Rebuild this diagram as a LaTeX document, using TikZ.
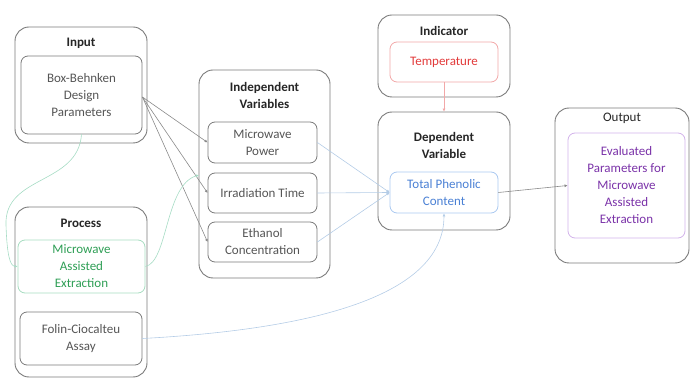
\documentclass[tikz,border=0pt]{standalone}
\usepackage{fontspec}
\setmainfont{Carlito}
\usetikzlibrary{arrows.meta}
\definecolor{boxgray}{HTML}{7A7A7A}
\definecolor{txtgray}{HTML}{555555}
\definecolor{ttl}{HTML}{262626}
\definecolor{grn}{HTML}{2E9E55}
\definecolor{grnb}{HTML}{A6DCC0}
\definecolor{redt}{HTML}{E23A3A}
\definecolor{redb}{HTML}{F2A8A8}
\definecolor{blut}{HTML}{4A80D4}
\definecolor{blub}{HTML}{A9C8F0}
\definecolor{purt}{HTML}{7A32A8}
\definecolor{purb}{HTML}{D2B2EA}
\definecolor{linegray}{HTML}{8A8A8A}
\definecolor{lineblue}{HTML}{B4CCE6}
\definecolor{linegrn}{HTML}{A6DCC4}
\tikzset{
  outerbox/.style={draw=boxgray, line width=0.9pt, rounded corners=14pt, inner sep=0pt},
  innerbox/.style={draw=boxgray, line width=0.8pt, rounded corners=7pt, inner sep=0pt, align=center,
     font=\fontsize{13}{17}\selectfont, text=txtgray},
  titletxt/.style={font=\bfseries\fontsize{13}{17}\selectfont, text=ttl, align=center, inner sep=0pt},
  conn/.style={line width=0.6pt, -{Latex[length=3pt,width=3pt]}},
}
\begin{document}
\begin{tikzpicture}[x=1pt,y=-1pt]
\useasboundingbox (0,0) rectangle (691,379);
% outer boxes
\node[outerbox, minimum width=132pt, minimum height=116pt] (inOuter) at (81,85) {};
\node[outerbox, minimum width=132pt, minimum height=170pt] (prOuter) at (81,292) {};
\node[outerbox, minimum width=131pt, minimum height=208pt] (ivOuter) at (264.5,174) {};
\node[outerbox, minimum width=132pt, minimum height=82pt] (indOuter) at (444,56) {};
\node[outerbox, minimum width=132pt, minimum height=118pt] (dvOuter) at (444,171) {};
\node[outerbox, minimum width=134pt, minimum height=155pt] (outOuter) at (622,185.5) {};
% titles
\node[titletxt] (tIn) at (81,43) {Input};
\node[titletxt] (tPr) at (81,223) {Process};
\node[titletxt] (tIv) at (264.5,95.5) {Independent\\Variables};
\node[titletxt] (tInd) at (444,31) {Indicator};
\node[titletxt] (tDv) at (444,145.5) {Dependent\\Variable};
\node[titletxt, font=\fontsize{13}{17}\selectfont] (tOut) at (622,118) {Output};
% inner boxes
\node[innerbox, minimum width=121pt, minimum height=78pt] (bbd) at (81.5,95) {Box-Behnken\\Design\\Parameters};
\node[innerbox, draw=grnb, text=grn, minimum width=127pt, minimum height=53pt] (mae) at (81.5,266.5) {Microwave\\Assisted\\Extraction};
\node[innerbox, minimum width=122pt, minimum height=53pt] (fca) at (81,338.5) {Folin-Ciocalteu\\Assay};
\node[innerbox, minimum width=109pt, minimum height=41pt] (mp) at (262.5,142.5) {Microwave\\Power};
\node[innerbox, minimum width=109pt, minimum height=40pt] (it) at (262.5,193) {Irradiation Time};
\node[innerbox, minimum width=109pt, minimum height=40pt] (ec) at (262.5,242) {Ethanol\\Concentration};
\node[innerbox, draw=redb, text=redt, minimum width=108pt, minimum height=40pt] (temp) at (444,62) {Temperature};
\node[innerbox, draw=blub, text=blut, minimum width=108pt, minimum height=41pt] (tpc) at (444,192.5) {Total Phenolic\\Content};
\node[innerbox, draw=purb, text=purt, minimum width=117pt, minimum height=105pt] (epm) at (626.5,185.5) {Evaluated\\Parameters for\\Microwave\\Assisted\\Extraction};
% connectors
\coordinate (bbdOut) at ([yshift=-2pt]bbd.east);
\draw[conn, draw=linegray] (bbdOut) -- (mp.west);
\draw[conn, draw=linegray] (bbdOut) -- (it.west);
\draw[conn, draw=linegray] (bbdOut) -- (ec.west);
\draw[conn, draw=lineblue] (mp.east) -- (tpc.west);
\draw[conn, draw=lineblue] (it.east) -- (tpc.west);
\draw[conn, draw=lineblue] (ec.east) -- (tpc.west);
\draw[conn, draw=linegray] (tpc.east) -- (epm.west);
\draw[conn, draw=redb] (temp.south) -- (dvOuter.north);
\draw[conn, draw=linegrn] (bbd.south) .. controls (78,185) and (4,175) .. (6,225) .. controls (7,255) and (10,266) .. (mae.west);
\coordinate (ivIn) at (199,175);
\draw[conn, draw=linegrn] (mae.east) .. controls (168,262) and (165,185) .. (ivIn);
\draw[conn, draw=lineblue] (fca.east) .. controls (300,330) and (444,300) .. (tpc.south);
\end{tikzpicture}
\end{document}
